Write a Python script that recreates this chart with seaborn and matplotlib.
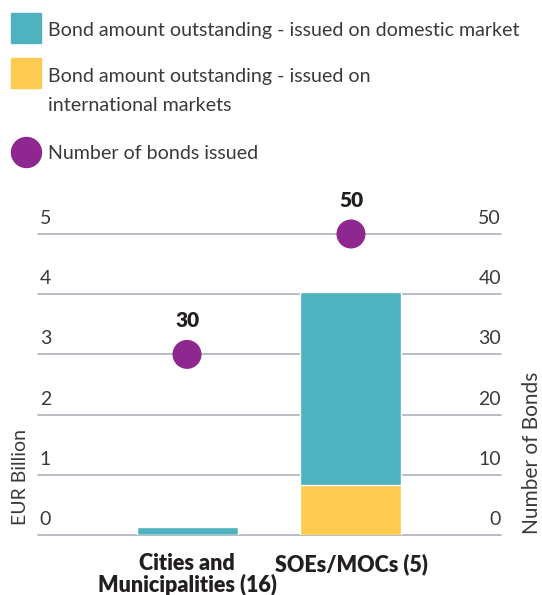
import numpy as np
import pandas as pd
import matplotlib
matplotlib.use("Agg")
import matplotlib.pyplot as plt
import seaborn as sns
from matplotlib.lines import Line2D
from matplotlib.patches import Rectangle
from matplotlib.transforms import blended_transform_factory, offset_copy

# Data
categories = ["Cities and\nMunicipalities (16)", "SOEs/MOCs (5)"]
domestic = [0.13, 3.21]        # EUR billion
international = [0.0, 0.83]    # EUR billion
bonds_issued = [30, 50]
left_ticks = [0, 1, 2, 3, 4, 5]
right_ticks = [0, 10, 20, 30, 40, 50]
legend_labels = [
    "Bond amount outstanding - issued on domestic market",
    ["Bond amount outstanding - issued on", "international markets"],
    "Number of bonds issued",
]

TEAL = "#4fb3bf"
YELLOW = "#fdcb4f"
PURPLE = "#8e278f"
GRID = "#aeb0ba"
TEXT = "#3a3a3a"
DARK = "#231f20"

W, H = 542, 595


def fx(px):
    return px / W


def fy(py):
    return 1 - py / H


sns.set_theme(style="white")
plt.rcParams["font.family"] = ["Lato", "DejaVu Sans"]

df = pd.DataFrame({
    "category": categories,
    "domestic": domestic,
    "international": international,
    "bonds": bonds_issued,
})
df["total"] = df["domestic"] + df["international"]

fig = plt.figure(figsize=(W / 100, H / 100), dpi=100)
ax = fig.add_axes([fx(38), fy(535), fx(501) - fx(38), fy(234) - fy(535)])

# stacked bars: total in teal, international drawn over it
sns.barplot(data=df, x="category", y="total", color=TEAL, width=0.616,
            saturation=1, errorbar=None, ax=ax, zorder=2)
sns.barplot(data=df, x="category", y="international", color=YELLOW, width=0.616,
            saturation=1, errorbar=None, ax=ax, zorder=3)

ax.set_ylim(0, 5)
for v in left_ticks:
    ax.axhline(v, color=GRID, lw=1.2, zorder=0, clip_on=False)

ax.set_xlabel("")
ax.set_ylabel("")
ax.set_yticks(left_ticks)
ax.tick_params(axis="y", labelleft=False, length=0)
ax.set_xticks(range(len(categories)))
ax.set_xticklabels(categories, fontweight="heavy", fontsize=15.5, color=DARK,
                   linespacing=1.0)
ax.tick_params(axis="x", length=0, pad=13)
for s in ax.spines.values():
    s.set_visible(False)

trans_l = offset_copy(blended_transform_factory(ax.transAxes, ax.transData),
                      fig=fig, y=7.2, units="points")
for v in left_ticks:
    ax.text(0.004, v, str(v), transform=trans_l, ha="left", va="baseline",
            fontsize=14, color=TEXT)

# number of bonds on the secondary axis
ax2 = ax.twinx()
sns.scatterplot(x=np.arange(len(categories)), y=bonds_issued, ax=ax2, s=436,
                color=PURPLE, edgecolor="none", clip_on=False, zorder=5,
                legend=False)
ax2.set_ylim(0, 50)
ax2.set_yticks(right_ticks)
ax2.tick_params(axis="y", labelright=False, length=0)
for s in ax2.spines.values():
    s.set_visible(False)

trans_r = offset_copy(blended_transform_factory(ax2.transAxes, ax2.transData),
                      fig=fig, y=7.2, units="points")
for v in right_ticks:
    ax2.text(1.0, v, str(v), transform=trans_r, ha="right", va="baseline",
             fontsize=14, color=TEXT)

for i, n in enumerate(bonds_issued):
    ax2.annotate(f"{n}", (i, n), xytext=(0, 19.4), textcoords="offset points",
                 ha="center", va="baseline", fontsize=15, fontweight="heavy",
                 color=DARK, annotation_clip=False)

ax.set_xlim(-0.909, 1.915)

# axis titles
fig.text(fx(21), fy(477), "EUR Billion", rotation=90, ha="center", va="center",
         fontsize=14, color=TEXT)
fig.text(fx(532), fy(453), "Number of Bonds", rotation=90, ha="center",
         va="center", fontsize=15, color=TEXT)

# legend drawn by hand at the top
fig.add_artist(Rectangle((fx(11), fy(43)), fx(41) - fx(11), fy(13) - fy(43),
                         transform=fig.transFigure, color=TEAL))
fig.add_artist(Rectangle((fx(11), fy(88)), fx(41) - fx(11), fy(58) - fy(88),
                         transform=fig.transFigure, color=YELLOW))
fig.add_artist(Line2D([fx(26)], [fy(152)], marker="o", ms=21.6, color=PURPLE,
                      linestyle="none", transform=fig.transFigure))

t0 = fig.text(fx(48), fy(36), legend_labels[0], ha="left", va="baseline",
              fontsize=15, color=TEXT)
fig.canvas.draw()
fs = 15 * 472 / t0.get_window_extent().width
t0.set_fontsize(fs)
for line, base in zip(legend_labels[1], [82, 111]):
    fig.text(fx(48), fy(base), line, ha="left", va="baseline",
             fontsize=fs, color=TEXT)
fig.text(fx(48), fy(159), legend_labels[2], ha="left", va="baseline",
         fontsize=fs, color=TEXT)

fig.savefig("out.png", dpi=100)
